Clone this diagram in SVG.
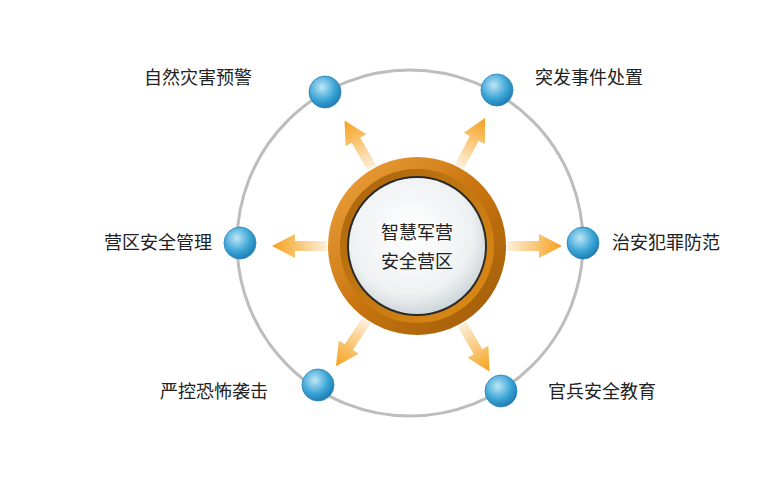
<svg xmlns="http://www.w3.org/2000/svg" width="781" height="491" viewBox="0 0 781 491">
<defs>
<linearGradient id="ag" gradientUnits="userSpaceOnUse" x1="90" y1="0" x2="145" y2="0"><stop offset="0" stop-color="#fdf0dc"/><stop offset="1" stop-color="#f5a01a"/></linearGradient>
<radialGradient id="bg" cx="0.4" cy="0.35" r="0.7"><stop offset="0" stop-color="#bfe6f6"/><stop offset="0.6" stop-color="#3aa4d6"/><stop offset="1" stop-color="#1c76ad"/></radialGradient>
<linearGradient id="og" x1="0" y1="0" x2="1" y2="1"><stop offset="0" stop-color="#f0a640"/><stop offset="0.5" stop-color="#c9750f"/><stop offset="1" stop-color="#9a5a08"/></linearGradient>
<linearGradient id="og2" x1="0" y1="0" x2="1" y2="1"><stop offset="0" stop-color="#a8630c"/><stop offset="1" stop-color="#e08d16"/></linearGradient>
<radialGradient id="gg" cx="0.45" cy="0.4" r="0.65"><stop offset="0" stop-color="#ffffff"/><stop offset="0.7" stop-color="#eef1f2"/><stop offset="1" stop-color="#c5ced3"/></radialGradient>
<polygon id="arr" points="90,-5 122,-5 122,-12 145,0 122,12 122,5 90,5" fill="url(#ag)"/>
<circle id="nd" r="16" fill="url(#bg)" stroke="#2a83b8" stroke-width="0.8"/>
</defs>
<style>text{font-family:"Noto Sans CJK SC",sans-serif;font-size:18px;fill:#222}</style>
<rect width="781" height="491" fill="#fff"/>
<circle cx="410" cy="243" r="173" fill="none" stroke="#bdbdbd" stroke-width="3"/>
<g id="connectors" transform="translate(417,246)">
<use href="#arr" transform="rotate(0)"/>
<use href="#arr" transform="rotate(180)"/>
<use href="#arr" transform="rotate(-120)"/>
<use href="#arr" transform="rotate(-62)"/>
<use href="#arr" transform="rotate(124)"/>
<use href="#arr" transform="rotate(60)"/>
</g>
<g id="center">
<circle cx="417" cy="246" r="89" fill="url(#og)"/>
<circle cx="417" cy="246" r="77" fill="url(#og2)"/>
<circle cx="417" cy="246" r="70" fill="#2a2a2a"/>
<circle cx="417" cy="246" r="68" fill="url(#gg)"/>
<text x="417" y="239" text-anchor="middle" font-size="20">智慧军营</text>
<text x="417" y="268" text-anchor="middle" font-size="20">安全营区</text>
</g>
<g id="n1"><use href="#nd" x="325" y="92"/><text x="252" y="84" text-anchor="end">自然灾害预警</text></g>
<g id="n2"><use href="#nd" x="497" y="90"/><text x="535" y="84">突发事件处置</text></g>
<g id="n3"><use href="#nd" x="583" y="243"/><text x="612" y="249">治安犯罪防范</text></g>
<g id="n4"><use href="#nd" x="240" y="243"/><text x="212" y="249" text-anchor="end">营区安全管理</text></g>
<g id="n5"><use href="#nd" x="318" y="385"/><text x="268" y="398" text-anchor="end">严控恐怖袭击</text></g>
<g id="n6"><use href="#nd" x="501" y="391"/><text x="548" y="398">官兵安全教育</text></g>
</svg>
